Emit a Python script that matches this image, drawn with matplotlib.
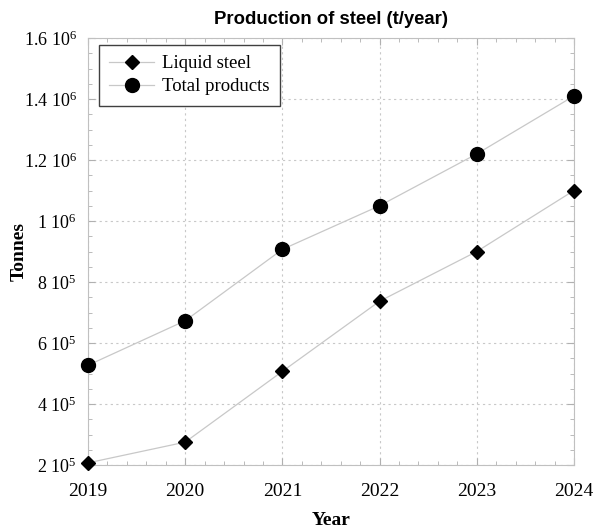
import matplotlib
matplotlib.use("Agg")
import matplotlib.pyplot as plt
from matplotlib.ticker import MultipleLocator, AutoMinorLocator, FuncFormatter

# data
years = [2019, 2020, 2021, 2022, 2023, 2024]
liquid_steel = [207000, 275000, 507000, 737000, 900000, 1100000]
total_products = [527000, 673000, 907000, 1050000, 1220000, 1410000]

plt.rcParams["font.family"] = "Liberation Serif"
plt.rcParams["mathtext.fontset"] = "custom"
plt.rcParams["mathtext.rm"] = "Liberation Serif"
plt.rcParams["mathtext.it"] = "Liberation Serif:italic"

fig = plt.figure(figsize=(5.98, 5.31), dpi=100)
ax = fig.add_axes([88 / 598, 1 - 465 / 531, (574 - 88) / 598, (465 - 38) / 531])

ax.plot(years, liquid_steel, color="#c8c8c8", lw=0.9, marker="D", ms=7,
        mfc="black", mec="black", label="Liquid steel", clip_on=False, zorder=3)
ax.plot(years, total_products, color="#c8c8c8", lw=0.9, marker="o", ms=10,
        mfc="black", mec="black", label="Total products", clip_on=False, zorder=3)

ax.set_xlim(2019, 2024)
ax.set_ylim(2e5, 1.6e6)
ax.xaxis.set_major_locator(MultipleLocator(1))
ax.xaxis.set_minor_locator(AutoMinorLocator(5))
ax.yaxis.set_major_locator(MultipleLocator(2e5))
ax.yaxis.set_minor_locator(AutoMinorLocator(4))


def sci(v, pos):
    if v <= 0:
        return "0"
    e = len(str(int(round(v)))) - 1
    m = v / 10 ** e
    ms = ("%.1f" % m).rstrip("0").rstrip(".")
    return ms + r" $\mathrm{10}^{%d}$" % e


ax.yaxis.set_major_formatter(FuncFormatter(sci))
ax.xaxis.set_major_formatter(FuncFormatter(lambda v, p: "%d" % v))

ax.tick_params(which="both", direction="in", top=True, right=True,
               color="#b0b0b0")
ax.tick_params(which="major", length=5)
ax.tick_params(which="minor", length=3)
ax.tick_params(axis="x", labelsize=14, pad=13)
ax.tick_params(axis="y", labelsize=13, pad=8)
for s in ax.spines.values():
    s.set_color("#c0c0c0")
    s.set_linewidth(0.8)

ax.grid(True, which="major", ls=(0, (2, 3)), color="#c8c8c8", lw=0.8)

ax.set_title("Production of steel (t/year)", family="Liberation Sans",
             fontweight="bold", fontsize=13.3, pad=10)
ax.set_xlabel("Year", fontweight="bold", fontsize=14)
ax.set_ylabel("Tonnes", fontweight="bold", fontsize=14)
ax.xaxis.set_label_coords(0.5, -(512 - 465) / 427)
ax.yaxis.set_label_coords(-(88 - 28) / 486, 0.5)

leg = ax.legend(loc="upper left", bbox_to_anchor=(11 / 486, 1 - 7 / 427),
                borderaxespad=0, fontsize=13.5, fancybox=False,
                framealpha=1, edgecolor="#404040", handlelength=2.4,
                handletextpad=0.4, borderpad=0.55, labelspacing=0.3)
leg.get_frame().set_linewidth(1.0)

fig.savefig("out.png", dpi=100)
